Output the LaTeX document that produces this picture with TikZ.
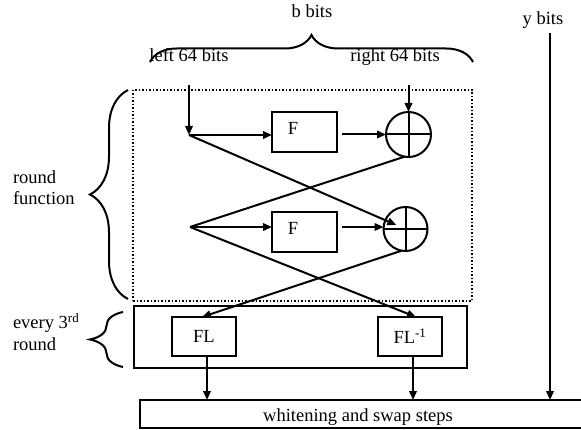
\documentclass[tikz,border=0pt]{standalone}
\usepackage{fontspec}
\setmainfont{Liberation Serif}
\usetikzlibrary{arrows.meta,decorations.pathreplacing,calc}
\begin{document}
\begin{tikzpicture}[x=1pt,y=-1pt,
  line width=2pt,
  every node/.style={font=\fontsize{18.5}{21}\selectfont, inner sep=0pt, outer sep=0pt},
  arr/.style={-{Triangle[length=9pt,width=7.5pt]}},
  box/.style={draw, rectangle},
  xor/.style={draw, circle, minimum size=45pt},
  brc/.style={decorate, decoration={brace, amplitude=#1}},
]
\useasboundingbox (0,0) rectangle (581,430);

% containers
\node[box, dotted, line width=1.5pt, minimum width=339pt, minimum height=211pt] (rf) at (302.5,195.5) {};
\node[box, minimum width=333pt, minimum height=62pt] (flo) at (300.5,337) {};
\node[box, minimum width=444pt, minimum height=28pt] (wh) at (362,414) {};
\node[anchor=base] (wht) at (358,421) {whitening and swap steps};

% F boxes
\node[box, minimum width=65pt, minimum height=40pt] (f1) at (304.5,132) {};
\node (f1t) at (293,128) {F};
\node[box, minimum width=65pt, minimum height=40pt] (f2) at (304.5,232) {};
\node (f2t) at (293,228) {F};

% XORs
\node[xor] (x1) at (408.5,134.5) {};
\draw (x1.north) -- (x1.south) (x1.west) -- (x1.east);
\node[xor, minimum size=44pt] (x2) at (405.5,229) {};
\draw (x2.north) -- (x2.south) (x2.west) -- (x2.east);

% FL boxes
\node[box, minimum width=64pt, minimum height=39pt] (fl) at (204,336.5) {FL};
\node[box, minimum width=64pt, minimum height=39pt] (fli) at (410,336.5) {FL\textsuperscript{-1}};

% labels
\node[anchor=base] (bb) at (312,18) {b bits};
\node[anchor=base] (yb) at (543,25) {y bits};
\node[anchor=base] (lb) at (189,62) {left 64 bits};
\node[anchor=base] (rb) at (395,62) {right 64 bits};
\node[anchor=base west, align=left] (rft) at (13,205) {round\\function};
\node[anchor=base west, align=left] (e3) at (13,350) {every 3\textsuperscript{rd}\\round};

% braces
\draw[brc=27pt] (150,62) -- (473,62);
\draw[brc=38pt] (128,299) -- (128,90);
\draw[brc=33pt] (123,367) -- (123,312);

% coordinates
\coordinate (lin) at (189,85);
\coordinate (p1) at (189,135);
\coordinate (rin) at (408.5,85);
\coordinate (p2) at (190,227);
\coordinate (ytop) at (550,33);
\coordinate (fls) at ($(fl.south)+(3,0)$);
\coordinate (flis) at ($(fli.south)+(3,0)$);

% connectors
\draw[arr] (lin) -- (p1);
\draw[arr] (p1) -- (p1 -| f1.west);
\draw[arr] ($(f1.east |- x1)+(5,0)$) -- (x1.west);
\draw[arr] (rin) -- (x1.north);
\draw[arr, shorten >=10pt] (p1) -- (x2.center);
\draw (x1.-100) -- (p2);
\draw[arr] (p2) -- (p2 -| f2.west);
\draw[arr] ($(f2.east |- p2)+(5,0)$) -- (p2 -| x2.west);
\draw[arr] (p2) -- ($(fli.north)+(6,0)$);
\draw[arr] (x2.-100) -- ($(fl.north)+(-2,0)$);
\draw[arr] (fls) -- (fls |- wh.north);
\draw[arr] (flis) -- (flis |- wh.north);
\draw[arr] (ytop) -- (ytop |- wh.north);
\end{tikzpicture}
\end{document}
